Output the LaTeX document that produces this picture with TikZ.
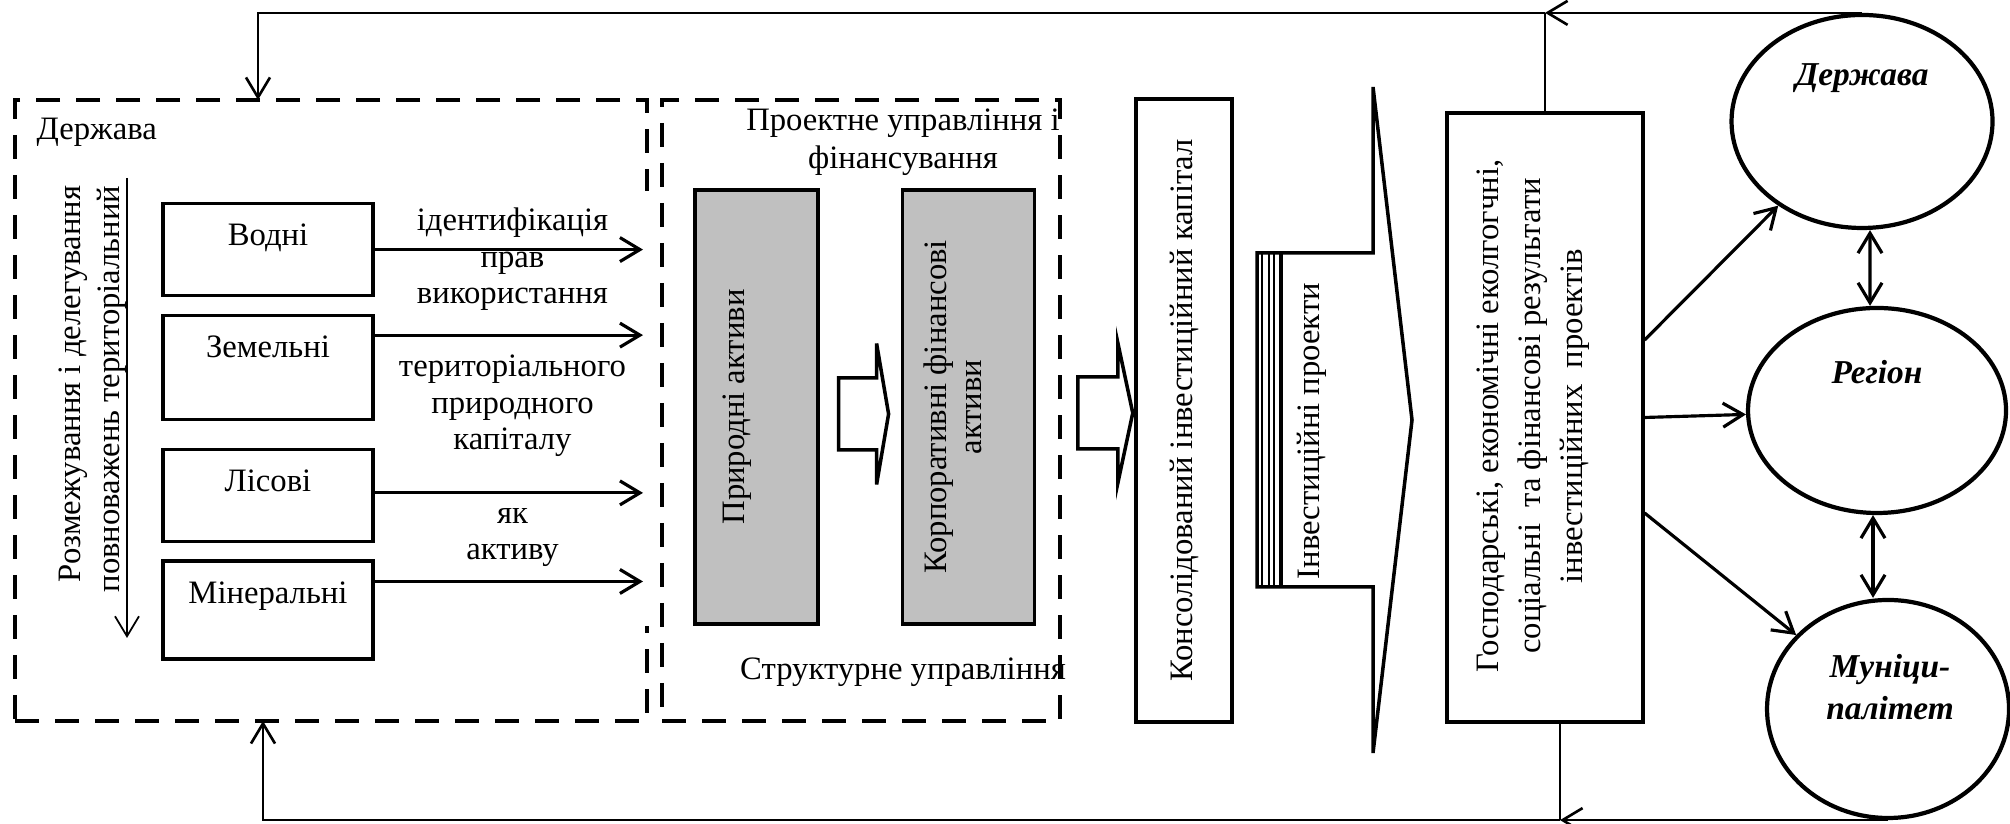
\documentclass[tikz,border=0pt]{standalone}
\usepackage{fontspec}
\setmainfont{Liberation Serif}
\usetikzlibrary{positioning,arrows.meta,shapes.geometric}

\definecolor{assetgray}{RGB}{192,192,192}

\begin{document}
\begin{tikzpicture}[>={Straight Barb[length=2mm,width=2.4mm]},
  font=\fontsize{9.3}{10.4}\selectfont,
  frame/.style={draw, dash pattern=on 2.4mm off 1.6mm, line width=1pt, inner sep=0pt},
  resbox/.style={draw, line width=0.9pt, fill=white, minimum width=2.1cm, inner sep=0pt, text height=0.42cm, anchor=north},
  asset/.style={draw, line width=0.9pt, fill=assetgray, inner sep=0pt},
  bigbox/.style={draw, line width=0.9pt, inner sep=0pt},
  actor/.style={draw, ellipse, line width=1.2pt, inner sep=0pt},
  actorlbl/.style={font=\fontsize{9.5}{12}\selectfont\bfseries\itshape, align=center},
  blockarr/.style={draw, line width=1pt, fill=white, line join=miter},
  fb/.style={line width=0.75pt},
  flow/.style={->, line width=0.9pt}]

  \useasboundingbox (0,0) rectangle (20.10,8.24);

  % two dashed frames
  \node[frame, minimum width=6.32cm, minimum height=6.21cm] (stateframe) at (3.31,4.135) {};
  \node[frame, minimum width=3.98cm, minimum height=6.21cm] (projframe) at (8.61,4.135) {};
  \node[anchor=base west, inner sep=0pt] (statelbl) at (0.36,6.84) {Держава};

  % delegation
  \node[rotate=90, anchor=east, align=right, inner sep=0pt, font=\fontsize{9.3}{11.1}\selectfont] (deleg) at (0.925,6.39) {Розмежування і делегування\\повноважень територіальний};
  \coordinate (delegtop) at (1.27,6.46);
  \coordinate (delegbot) at (1.27,1.86);
  \draw[->, line width=0.5pt] (delegtop) -- (delegbot);

  % rights text
  \node[fill=white, anchor=north, text width=2.5cm, align=center, minimum width=2.79cm, inner ysep=0pt, text height=0.40cm, text depth=3.95cm] (rights) at (5.125,6.34)
    {ідентифікація\\прав\\використання\\[10.4pt]територіального\\природного\\капіталу\\[10.4pt]як\\активу};

  % resource boxes
  \node[resbox, text depth=0.50cm] (vodni) at (2.68,6.22) {Водні};
  \node[resbox, text depth=0.62cm, below=0.17cm of vodni] (zemel) {Земельні};
  \node[resbox, text depth=0.50cm, below=0.27cm of zemel] (lis) {Лісові};
  \node[resbox, text depth=0.56cm, below=0.16cm of lis] (miner) {Мінеральні};

  \coordinate (inlet) at (6.43,0);
  \draw[flow] (vodni.east) -- (vodni.east -| inlet);
  \draw[flow] ([yshift=-0.21cm]zemel.north east) -- ([yshift=-0.21cm]zemel.north east -| inlet);
  \draw[flow] ([yshift=0.03cm]lis.east) -- ([yshift=0.03cm]lis.east -| inlet);
  \draw[flow] ([yshift=-0.22cm]miner.north east) -- ([yshift=-0.22cm]miner.north east -| inlet);

  % project management
  \node[align=center, inner sep=0pt, font=\fontsize{9.3}{10.8}\selectfont] (projlbl) at (9.03,6.82) {Проектне управління і\\фінансування};
  \node[asset, minimum width=1.23cm, minimum height=4.34cm] (natassets) at (7.565,4.17) {};
  \node[rotate=90] (natlbl) at ([xshift=-0.19cm]natassets.center) {Природні активи};
  \node[asset, minimum width=1.32cm, minimum height=4.34cm, right=0.81cm of natassets] (corpassets) {};
  \node[rotate=90, align=center, font=\fontsize{9.3}{10}\selectfont] (corplbl) at ([xshift=-0.15cm]corpassets.center) {Корпоративні фінансові\\активи};
  \node (structlbl) at (9.03,1.52) {Структурне управління};

  \draw[blockarr] ([xshift=0.19cm,yshift=-0.07cm]natassets.east) ++(0,0.36) -- ++(0.38,0) -- ++(0,0.345)
    -- ++(0.12,-0.705) -- ++(-0.12,-0.705) -- ++(0,0.345) -- ++(-0.38,0) -- cycle;
  \draw[blockarr] ([xshift=0.42cm,yshift=-0.06cm]corpassets.east) ++(0,0.36) -- ++(0.40,0) -- ++(0,0.345)
    -- ++(0.15,-0.705) -- ++(-0.15,-0.705) -- ++(0,0.345) -- ++(-0.40,0) -- cycle;

  % capital and projects
  \node[bigbox, rotate=90, minimum width=6.23cm, minimum height=0.96cm] (capital) at (11.84,4.135) {Консолідований інвестиційний капітал};

  \draw[blockarr] (12.57,5.71) -- (13.73,5.71) -- (13.73,7.37) -- (14.12,4.04) -- (13.73,0.71)
    -- (13.73,2.37) -- (12.57,2.37) -- cycle;
  \draw[line width=0.8pt] (12.62,5.71) -- (12.62,2.37);
  \draw[line width=0.8pt] (12.69,5.71) -- (12.69,2.37);
  \draw[line width=0.5pt] (12.74,5.71) -- (12.74,2.37);
  \draw[line width=1pt] (12.81,5.71) -- (12.81,2.37);
  \node[rotate=90] (invproj) at (13.12,3.93) {Інвестиційні проекти};

  % results
  \node[bigbox, minimum width=1.96cm, minimum height=6.09cm] (results) at (15.45,4.065) {};
  \node[rotate=90, align=center, font=\fontsize{9.3}{11.9}\selectfont] (resultslbl) at (15.33,4.08)
    {Господарські, економічні еколгогчні,\\соціальні\ \ та фінансові результати\\інвестиційних\ \ проектів};

  % actors
  \node[actor, minimum width=2.61cm, minimum height=2.13cm] (derzh) at (18.62,7.025) {};
  \node[actorlbl] (derzhlbl) at (18.62,7.46) {Держава};
  \node[actor, minimum width=2.58cm, minimum height=2.05cm] (region) at (18.77,4.135) {};
  \node[actorlbl] (regionlbl) at (18.77,4.52) {Регіон};
  \node[actor, minimum width=2.42cm, minimum height=2.18cm] (munic) at (18.88,1.15) {};
  \node[actorlbl] (municlbl) at (18.90,1.37) {Муніци-\\палітет};

  \draw[flow] ([yshift=0.775cm]results.east) -- (derzh);
  \draw[flow] (results.east) -- (region);
  \draw[flow] ([yshift=-0.955cm]results.east) -- (munic);
  \draw[<->, line width=0.9pt] ([xshift=0.08cm]derzh.south) -- ([xshift=-0.07cm]region.north);
  \draw[<->, line width=0.9pt] ([xshift=-0.04cm]region.south) -- ([xshift=-0.15cm]munic.north);

  % feedback loops
  \coordinate (topjoin) at (results.north |- derzh.north);
  \coordinate (topdrop) at (2.58,7.24);
  \draw[fb, ->] (derzh.north) -- (topjoin);
  \draw[fb] (results.north) -- (topjoin);
  \draw[fb, ->] (topjoin) -| (topdrop);

  \coordinate (botjoin) at ([xshift=0.15cm]results.south |- munic.south);
  \coordinate (botrise) at (2.63,1.03);
  \draw[fb, ->] (munic.south) -- (botjoin);
  \draw[fb] ([xshift=0.15cm]results.south) -- (botjoin);
  \draw[fb, ->] (botjoin) -| (botrise);
\end{tikzpicture}
\end{document}
